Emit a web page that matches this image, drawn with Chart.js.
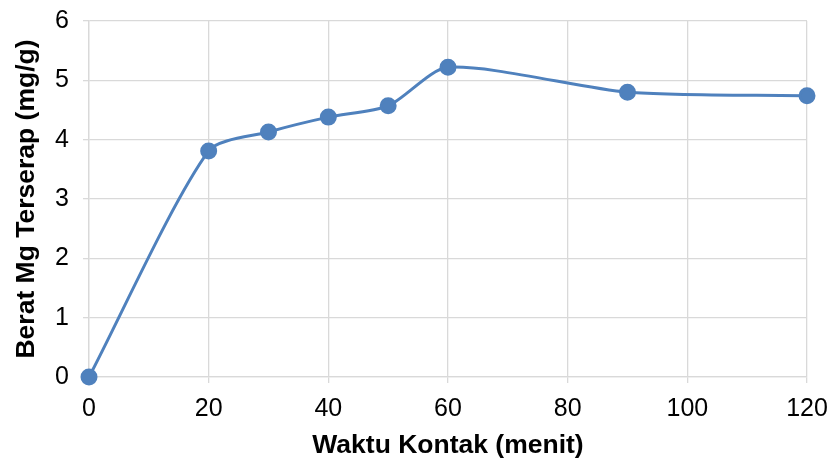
<!DOCTYPE html>
<html>
<head>
<meta charset="utf-8">
<script src="https://cdn.jsdelivr.net/npm/chart.js@4/dist/chart.umd.min.js"></script>
<style>
html,body{margin:0;padding:0;background:#fff;}
#wrap{width:832px;height:462px;}
</style>
</head>
<body>
<div id="wrap"><canvas id="c" width="832" height="462"></canvas></div>
<script>
const waktu = [0, 20, 30, 40, 50, 60, 90, 120];
const berat = [0, 3.81, 4.13, 4.38, 4.57, 5.22, 4.80, 4.74];
const xTitle = "Waktu Kontak (menit)";
const yTitle = "Berat Mg Terserap (mg/g)";

const gridColor = "#d9d9d9";
const blue = "#4f81bd";

new Chart(document.getElementById("c"), {
  type: "scatter",
  data: {
    datasets: [{
      data: waktu.map((x, i) => ({x: x, y: berat[i]})),
      showLine: true,
      clip: false,
      borderColor: blue,
      backgroundColor: blue,
      borderWidth: 3,
      pointRadius: 7,
      pointHoverRadius: 7,
      tension: 0.25
    }]
  },
  options: {
    responsive: false,
    animation: false,
    devicePixelRatio: 1,
    plugins: { legend: { display: false }, tooltip: { enabled: false } },
    layout: { padding: { top: 21, right: 25, left: 0, bottom: 0 } },
    scales: {
      x: {
        type: "linear",
        min: 0, max: 120,
        ticks: { stepSize: 20, color: "#000", font: { family: "Liberation Sans", size: 25 }, padding: 11 },
        grid: { color: gridColor, lineWidth: 1.3, tickLength: 6, tickColor: gridColor },
        border: { color: gridColor, width: 1.3 },
        title: { display: true, text: xTitle, color: "#000", font: { family: "Liberation Sans", size: 26.5, weight: "bold" }, padding: { top: 2, bottom: 0 } },
        afterFit: s => { s.height = 85; s.paddingLeft = 0; s.paddingRight = 0; }
      },
      y: {
        min: 0, max: 6,
        ticks: { stepSize: 1, color: "#000", font: { family: "Liberation Sans", size: 25 }, padding: 14 },
        grid: { color: gridColor, lineWidth: 1.3, tickLength: 6, tickColor: gridColor },
        border: { color: gridColor, width: 1.3 },
        title: { display: true, text: yTitle, color: "#000", font: { family: "Liberation Sans", size: 26.5, weight: "bold" }, padding: { top: 11, bottom: 0 } },
        afterFit: s => { s.width = 89; s.paddingTop = 0; s.paddingBottom = 0; }
      }
    }
  }
});
</script>
</body>
</html>
